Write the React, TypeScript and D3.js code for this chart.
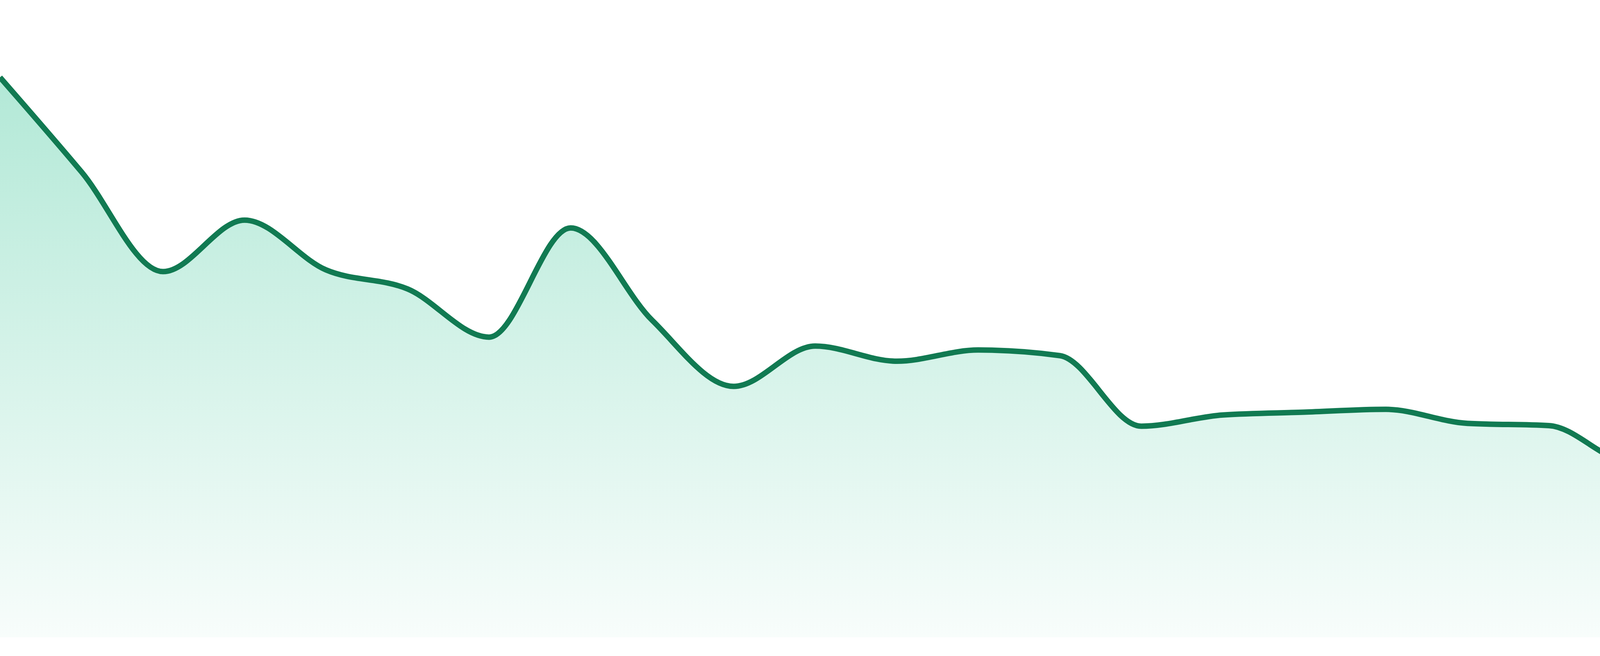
import React, { useEffect, useRef } from 'react';
import * as d3 from 'd3';

// one value per evenly spaced step
const steps = d3.range(24);
const values = [
  100, 83.1, 65.3, 74.5, 65.6, 62.2, 53.6, 73.1, 56.6, 44.8, 52.0, 49.3,
  51.3, 50.3, 37.7, 39.7, 40.2, 40.7, 38.2, 37.8, 31.3, 38.2, 36.6, 28.2,
];

const App: React.FC = () => {
  const svgRef = useRef<SVGSVGElement>(null);

  useEffect(() => {
    if (!svgRef.current) return;
    const svg = d3.select(svgRef.current);
    svg.selectAll('*').remove();

    const width = 4800;
    const baseline = 1632;

    const x = d3.scaleLinear().domain([0, steps.length - 1]).range([0, width]);
    const y = d3.scaleLinear().domain([0, 100]).range([baseline, 198]);

    const data = steps.map((s, i) => ({ s, v: values[i] }));

    const defs = svg.append('defs');
    const grad = defs.append('linearGradient')
      .attr('id', 'area-grad')
      .attr('x1', 0).attr('x2', 0).attr('y1', 0).attr('y2', 1);
    grad.append('stop').attr('offset', '0%').attr('stop-color', '#10b981').attr('stop-opacity', 0.32);
    grad.append('stop').attr('offset', '100%').attr('stop-color', '#10b981').attr('stop-opacity', 0.03);

    // filled area under the curve
    svg.append('path')
      .datum(data)
      .attr('fill', 'url(#area-grad)')
      .attr('d', d3.area<{ s: number; v: number }>()
        .curve(d3.curveMonotoneX)
        .x(d => x(d.s))
        .y0(baseline)
        .y1(d => y(d.v)));

    // line on top
    svg.append('path')
      .datum(data)
      .attr('fill', 'none')
      .attr('stroke', '#117a52')
      .attr('stroke-width', 14)
      .attr('d', d3.line<{ s: number; v: number }>()
        .curve(d3.curveMonotoneX)
        .x(d => x(d.s))
        .y(d => y(d.v)));
  }, []);

  return (
    <>
      <style>{'body{margin:0;background:#fff}'}</style>
      <svg ref={svgRef} width={4800} height={1680} style={{ display: 'block' }} />
    </>
  );
};

export default App;
